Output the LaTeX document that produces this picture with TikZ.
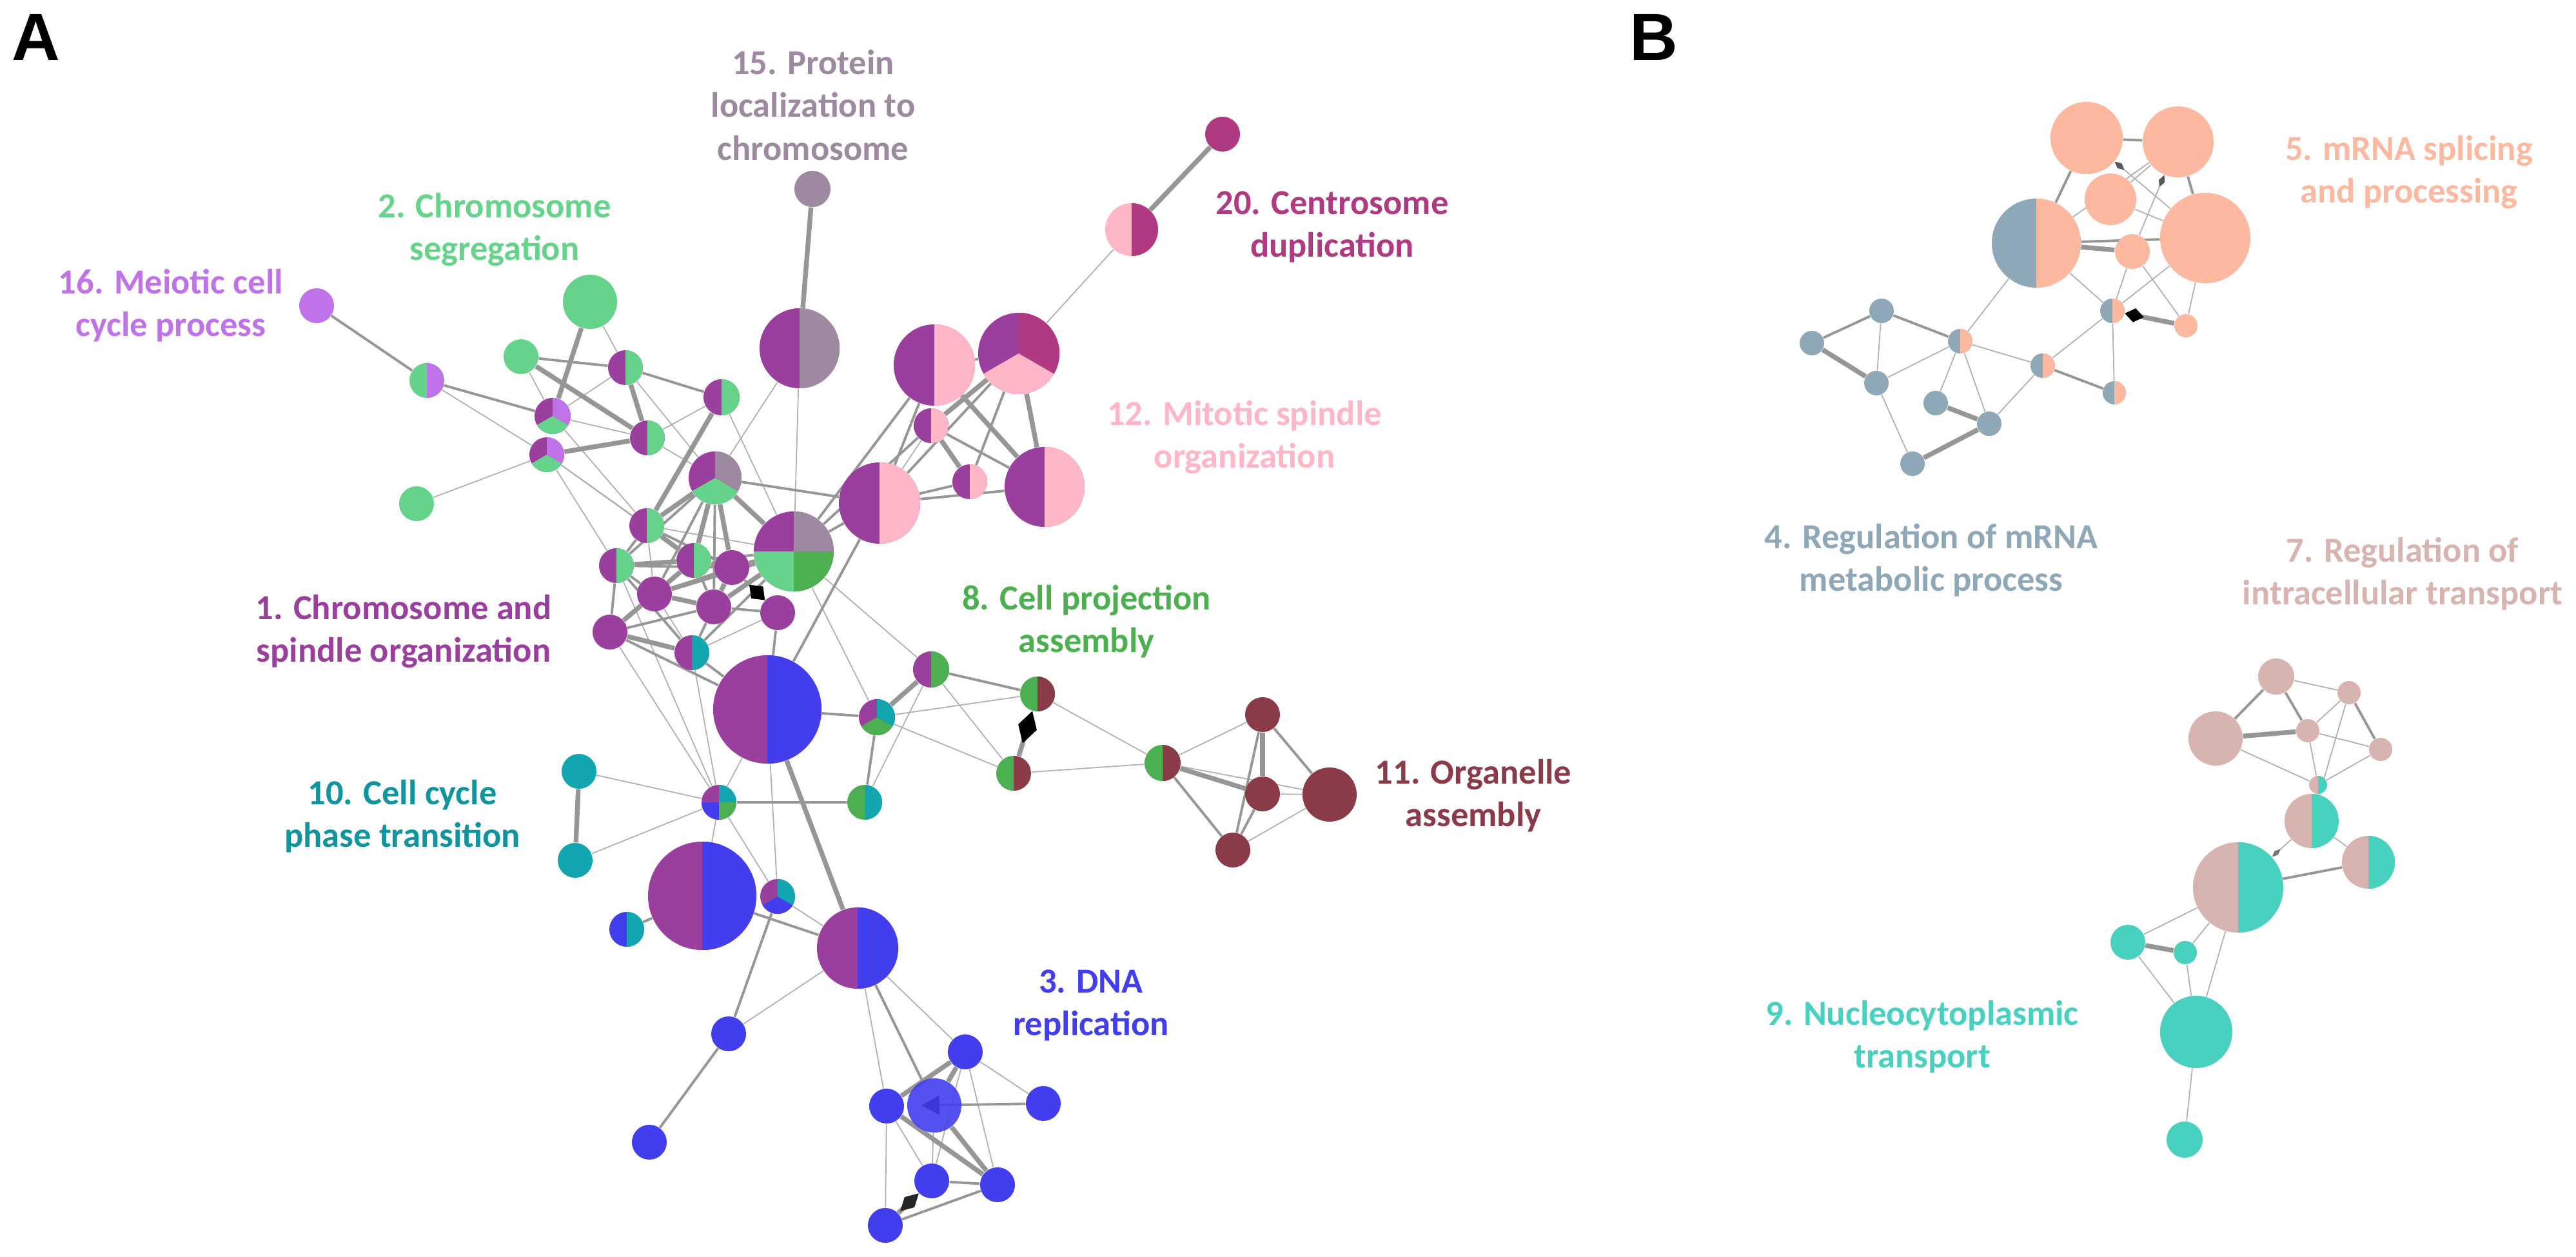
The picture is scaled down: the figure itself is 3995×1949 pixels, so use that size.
\documentclass[tikz,border=0pt]{standalone}
\usepackage{fontspec}
\setmainfont{Carlito}
\newfontfamily\panelfont{Liberation Sans}
\usetikzlibrary{arrows.meta}
\pgfdeclarelayer{bg}
\pgfsetlayers{bg,main}

\definecolor{cpur}{RGB}{155,63,158}
\definecolor{cgrn}{RGB}{102,211,138}
\definecolor{cblu}{RGB}{66,62,238}
\definecolor{cgry}{RGB}{143,168,184}
\definecolor{csal}{RGB}{253,184,160}
\definecolor{ctan}{RGB}{216,180,176}
\definecolor{cdgr}{RGB}{76,175,80}
\definecolor{ctq}{RGB}{72,209,190}
\definecolor{ctl}{RGB}{18,166,176}
\definecolor{cmar}{RGB}{139,58,72}
\definecolor{cpnk}{RGB}{255,182,198}
\definecolor{cmau}{RGB}{158,138,160}
\definecolor{cvio}{RGB}{192,114,232}
\definecolor{cmag}{RGB}{176,58,130}
\definecolor{cedge}{RGB}{150,150,150}

\def\pb{path picture bounding box}

\begin{document}
\begin{tikzpicture}[x=0.01cm,y=-0.01cm,
  dot/.style={circle,inner sep=0pt,draw=none,minimum size=#1*0.02cm},
  half/.style 2 args={fill=#1,path picture={\fill[#2] (\pb.south) rectangle (\pb.north east);}},
  tri/.style n args={3}{fill=#1,path picture={
     \fill[#2] (\pb.center) -- ++(210:2cm) -- ++(3.464cm,0cm) -- cycle;
     \fill[#3] (\pb.center) -- ++(330:2cm) -- ++(0cm,2cm) -- ++(-1.732cm,1cm) -- cycle;}},
  quad/.style n args={4}{fill=#1,path picture={
     \fill[#2] (\pb.center) rectangle (\pb.north east);
     \fill[#3] (\pb.center) rectangle (\pb.south west);
     \fill[#4] (\pb.center) rectangle (\pb.south east);}},
  e1/.style={draw=cedge!75,line width=0.5pt},
  e2/.style={draw=cedge,line width=1.1pt},
  e3/.style={draw=cedge,line width=2.1pt},
  lbl/.style={font=\bfseries\fontsize{15.5}{18.8}\selectfont,align=center},
  panel/.style={font=\panelfont\bfseries\fontsize{29.4}{30}\selectfont,anchor=base}
]
\useasboundingbox (0,0) rectangle (3995,1949);

% panel letters
\node[panel] (pA) at (56,94) {A};
\node[panel] (pB) at (2565,94) {B};

% ---- A: upper left
\node[dot=27,fill=cvio] (m16) at (491,474) {};
\node[dot=27,half={cgrn}{cvio}] (gv1) at (662,590) {};
\node[dot=42,fill=cgrn] (g2a) at (915,468) {};
\node[dot=27,fill=cgrn] (g2b) at (808,553) {};
\node[dot=27,fill=cgrn] (g2c) at (646,781) {};
\node[dot=27,half={cpur}{cgrn}] (pg1) at (970,570) {};
\node[dot=28,tri={cpur}{cgrn}{cvio}] (pvg1) at (857,645) {};
\node[dot=27,tri={cpur}{cgrn}{cvio}] (pvg2) at (848,705) {};
\node[dot=28,half={cpur}{cgrn}] (pg2) at (1119,616) {};
\node[dot=27,half={cpur}{cgrn}] (pg3) at (1004,679) {};
\node[dot=41,tri={cpur}{cgrn}{cmau}] (pmg3) at (1109,741) {};
\node[dot=27,half={cpur}{cgrn}] (pg4) at (1003,815) {};
\node[dot=27,half={cpur}{cgrn}] (pg5) at (956,877) {};
\node[dot=27,half={cpur}{cgrn}] (pg6) at (1076,869) {};
\node[dot=27,fill=cpur] (p1) at (1135,880) {};
\node[dot=27,fill=cpur] (p2) at (1015,921) {};
\node[dot=27,fill=cpur] (p3) at (1107,941) {};
\node[dot=27,fill=cpur] (p4) at (946,980) {};
\node[dot=27,fill=cpur] (p5) at (1206,950) {};
\node[dot=27,half={cpur}{ctl}] (pt1) at (1073,1012) {};
\node[dot=62,quad={cpur}{cmau}{cgrn}{cdgr}] (pqd) at (1231,855) {};
\node[dot=62,half={cpur}{cmau}] (pgy) at (1240,540) {};
\node[dot=28,fill=cmau] (gy15) at (1260,293) {};

% ---- A: spindle / centrosome
\node[dot=63,half={cpur}{cpnk}] (pp1) at (1364,780) {};
\node[dot=27,half={cpur}{cpnk}] (pp2) at (1444,660) {};
\node[dot=27,half={cpur}{cpnk}] (pp3) at (1504,747) {};
\node[dot=62,half={cpur}{cpnk}] (pp4) at (1620,755) {};
\node[dot=63,half={cpur}{cpnk}] (pp5) at (1449,566) {};
\node[dot=63,tri={cpur}{cpnk}{cmag}] (pmp) at (1580,548) {};
\node[dot=41,half={cpnk}{cmag}] (pkm) at (1755,356) {};
\node[dot=27,fill=cmag] (m20) at (1896,208) {};

% ---- A: cell cycle / DNA replication
\node[dot=84,half={cpur}{cblu}] (pb1) at (1190,1100) {};
\node[dot=84,half={cpur}{cblu}] (pb2) at (1089,1389) {};
\node[dot=63,half={cpur}{cblu}] (pb3) at (1330,1470) {};
\node[dot=27,quad={cpur}{ctl}{cblu}{cdgr}] (q4) at (1115,1244) {};
\node[dot=27,tri={cpur}{cblu}{ctl}] (ptb) at (1206,1390) {};
\node[dot=27,half={cblu}{ctl}] (bt) at (972,1441) {};
\node[dot=27,fill=ctl] (t10a) at (898,1196) {};
\node[dot=27,fill=ctl] (t10b) at (892,1334) {};
\node[dot=27,fill=cblu] (b1) at (1130,1603) {};
\node[dot=27,fill=cblu] (b2) at (1007,1771) {};
\node[dot=27,fill=cblu] (b3) at (1497,1631) {};
\node[dot=27,fill=cblu] (b4) at (1375,1715) {};
\node[dot=42,fill=cblu,fill opacity=0.9] (b5) at (1449,1714) {};
\node[dot=27,fill=cblu] (b6) at (1618,1711) {};
\node[dot=27,fill=cblu] (b7) at (1445,1831) {};
\node[dot=27,fill=cblu] (b8) at (1547,1837) {};
\node[dot=27,fill=cblu] (b9) at (1373,1900) {};

% ---- A: cell projection / organelle
\node[dot=28,half={cpur}{cdgr}] (pg7) at (1444,1038) {};
\node[dot=28,tri={cpur}{cdgr}{ctl}] (ptg) at (1360,1112) {};
\node[dot=27,half={cdgr}{ctl}] (gt) at (1341,1244) {};
\node[dot=27,half={cdgr}{cmar}] (gb1) at (1609,1076) {};
\node[dot=27,half={cdgr}{cmar}] (gb2) at (1572,1199) {};
\node[dot=28,half={cdgr}{cmar}] (gb3) at (1803,1183) {};
\node[dot=27,fill=cmar] (br1) at (1958,1108) {};
\node[dot=27,fill=cmar] (br2) at (1958,1231) {};
\node[dot=42,fill=cmar] (br3) at (2062,1232) {};
\node[dot=27,fill=cmar] (br4) at (1912,1318) {};

% ---- B: mRNA
\node[dot=56,fill=csal] (s1) at (3236,214) {};
\node[dot=55,fill=csal] (s2) at (3378,220) {};
\node[dot=40,fill=csal] (s3) at (3273,309) {};
\node[dot=69,half={cgry}{csal}] (gs1) at (3158,377) {};
\node[dot=27,fill=csal] (s4) at (3307,390) {};
\node[dot=70,fill=csal] (s5) at (3420,369) {};
\node[dot=19,half={cgry}{csal}] (gs2) at (3276,482) {};
\node[dot=18,fill=csal] (s6) at (3390,505) {};
\node[dot=19,fill=cgry] (g4a) at (2918,482) {};
\node[dot=19,fill=cgry] (g4b) at (2810,532) {};
\node[dot=19,half={cgry}{csal}] (gs3) at (3040,529) {};
\node[dot=19,fill=cgry] (g4c) at (2910,594) {};
\node[dot=19,half={cgry}{csal}] (gs4) at (3168,567) {};
\node[dot=18,half={cgry}{csal}] (gs5) at (3279,609) {};
\node[dot=19,fill=cgry] (g4d) at (3002,625) {};
\node[dot=19,fill=cgry] (g4e) at (3085,657) {};
\node[dot=19,fill=cgry] (g4f) at (2966,719) {};

% ---- B: transport
\node[dot=28,fill=ctan] (tn1) at (3530,1049) {};
\node[dot=18,fill=ctan] (tn2) at (3643,1074) {};
\node[dot=42,fill=ctan] (tn3) at (3436,1145) {};
\node[dot=18,fill=ctan] (tn4) at (3579,1133) {};
\node[dot=18,fill=ctan] (tn5) at (3692,1162) {};
\node[dot=14,half={ctan}{ctq}] (tt1) at (3595,1217) {};
\node[dot=42,half={ctan}{ctq}] (tt2) at (3585,1273) {};
\node[dot=41,half={ctan}{ctq}] (tt3) at (3673,1337) {};
\node[dot=70,half={ctan}{ctq}] (tt4) at (3471,1376) {};
\node[dot=27,fill=ctq] (t9a) at (3300,1461) {};
\node[dot=18,fill=ctq] (t9b) at (3389,1477) {};
\node[dot=56,fill=ctq] (t9c) at (3406,1600) {};
\node[dot=28,fill=ctq] (t9d) at (3388,1767) {};

% labels
\node[lbl,text=cpur] (l1) at (626,979) {1. Chromosome and\\spindle organization};
\node[lbl,text=cgrn] (l2) at (767,356) {2. Chromosome\\segregation};
\node[lbl,text=cblu] (l3) at (1692,1559) {3. DNA\\replication};
\node[lbl,text=cgry] (l4) at (2995,869) {4. Regulation of mRNA\\metabolic process};
\node[lbl,text=csal] (l5) at (3736,267) {5. mRNA splicing\\and processing};
\node[lbl,text=ctan] (l7) at (3726,890) {7. Regulation of\\intracellular transport};
\node[lbl,text=cdgr] (l8) at (1685,964) {8. Cell projection\\assembly};
\node[lbl,text=ctq] (l9) at (2981,1608) {9. Nucleocytoplasmic\\transport};
\node[lbl,text=ctl!90!black] (l10) at (624,1266) {10. Cell cycle\\phase transition};
\node[lbl,text=cmar] (l11) at (2285,1234) {11. Organelle\\assembly};
\node[lbl,text=cpnk] (l12) at (1930,678) {12. Mitotic spindle\\organization};
\node[lbl,text=cmau] (l15) at (1261,163) {15. Protein\\localization to\\chromosome};
\node[lbl,text=cvio] (l16) at (265,474) {16. Meiotic cell\\cycle process};
\node[lbl,text=cmag] (l20) at (2066,352) {20. Centrosome\\duplication};

\begin{pgfonlayer}{bg}
% thin links
\foreach \a/\b in {gv1/pvg2,g2a/pg1,g2b/pvg1,g2c/pvg2,pvg1/pg3,pvg1/pg1,pg3/pg2,pg2/pqd,
  pgy/pmg3,pgy/pqd,pg1/pmg3,pvg2/pg5,pg5/q4,pt1/q4,t10a/q4,t10b/q4,q4/pb1,q4/ptb,q4/pb2,
  pb1/ptb,ptb/pb3,pb3/b1,pb3/b4,pb3/b3,b3/b6,b3/b8,b3/b7,b4/b9,b5/b7,b4/b7,pqd/ptg,pqd/pg7,
  pg7/gt,pg7/gb2,ptg/gb1,ptg/gb2,gb1/gb3,gb2/gb3,gb3/br1,gb3/br3,br2/br3,br3/br4,pp1/pp2,
  pmp/pkm,pvg2/pg4,pvg1/pg4,pvg2/pg6,pg4/p2,pt1/p2,p4/q4,pg5/pqd,pg3/pmg3,pg4/pqd,pt1/p5,
  s2/gs1,s2/s3,s3/s5,s4/gs2,s5/gs2,s5/s6,s4/s6,gs1/gs3,gs1/gs2,gs2/gs4,gs2/gs5,gs3/gs4,
  g4a/g4c,g4c/gs3,gs3/g4d,gs3/g4e,g4e/gs4,g4c/g4f,
  tn1/tn2,tn3/tt1,tn2/tn4,tn2/tt2,tn4/tn5,tn4/tt1,tn5/tt1,tt1/tt2,tt2/tt3,tt4/t9a,tt4/t9b,
  t9a/t9c,t9b/t9c,tt4/t9c,t9c/t9d}
  \draw[e1] (\a) -- (\b);
% medium links
\foreach \a/\b in {m16/gv1,gv1/pvg1,g2b/pg1,pg1/pg2,pg5/pg4,pg5/p4,p4/pb1,pt1/pb1,p5/pb1,
  pmg3/pp1,pqd/pp1,pp1/pb1,pp1/pp5,pp1/pp3,pp1/pp4,pp2/pp4,pmp/pp3,pmp/pp1,pmp/pp5,
  pg7/gb1,ptg/gt,q4/gt,ptb/b1,b1/b2,pb2/pb3,bt/pb2,pb3/b5,b7/b8,b9/b8,gb3/br4,br1/br3,
  br1/br4,br2/br4,ptg/pb1,pqd/pp2,pqd/pp5,pg4/p1,p3/pt1,pg5/p2,pg6/p3,p1/p2,pmg3/p2,
  pmg3/p3,pqd/pg6,pqd/pt1,pg5/pt1,p3/p5,p4/p3,pg6/p4,pg5/p1,pmg3/pg5,
  s1/s2,s1/gs1,gs1/s5,s2/s5,gs4/gs5,g4a/g4b,g4a/gs3,
  tn1/tn3,tn1/tn4,tn2/tn5,tt4/tt3}
  \draw[e2] (\a) -- (\b);
% thick links
\foreach \a/\b in {gy15/pgy,pkm/m20,g2a/pvg1,g2b/pg3,pg1/pg3,pvg2/pg3,pg2/pg4,pg4/pmg3,
  pg4/pg6,pg5/pg6,p4/pt1,p4/p2,p2/p3,p1/p3,p2/pg6,pg6/p1,p1/pqd,p3/pqd,pmg3/pqd,pmg3/pg6,
  pp2/pp3,pmp/pp4,pp5/pp4,pmp/pp2,ptg/pg7,gb3/br2,br1/br2,t10a/t10b,pb1/pb3,b3/b4,b3/b5,
  b4/b8,b5/b8,pmg3/p1,p2/pqd,
  g4b/g4c,g4d/g4e,g4e/g4f,gs1/s4,tn3/tn4,t9a/t9b}
  \draw[e3] (\a) -- (\b);
% directed links
\draw[e2,-{Kite[length=0.34cm,width=0.26cm,inset=0.17cm,color=black]}] (p1) -- (p5);
\draw[e3,-{Kite[length=0.52cm,width=0.3cm,inset=0.26cm,color=black]}] (gb2) -- (gb1);
\draw[e3,-{Kite[length=0.4cm,width=0.22cm,inset=0.2cm,color=black!85]}] (b9) -- (b7);
\draw[e2,-{Triangle[length=0.28cm,width=0.3cm,color=black]}] (b6) -- ([xshift=-0.2cm]b5.center);
\draw[e3,-{Kite[length=0.3cm,width=0.22cm,inset=0.15cm,color=black]}] (s6) -- (gs2);
\draw[e1,-{Kite[length=0.2cm,width=0.1cm,inset=0.1cm,color=black!65]}] (s5) -- (s1);
\draw[e1,-{Kite[length=0.2cm,width=0.1cm,inset=0.1cm,color=black!65]}] (s4) -- (s2);
\draw[e1,-{Kite[length=0.18cm,width=0.08cm,inset=0.09cm,color=black!55]}] (tt2) -- (tt4);
\end{pgfonlayer}
\end{tikzpicture}
\end{document}
